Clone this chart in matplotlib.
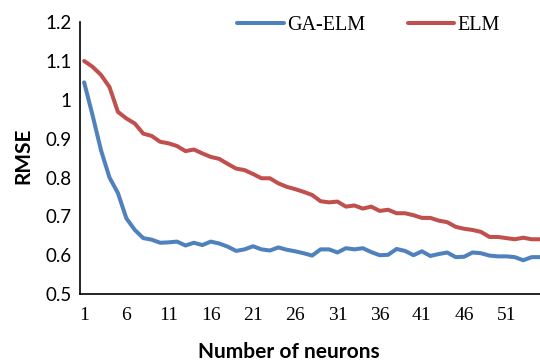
import numpy as np
import matplotlib
matplotlib.use("Agg")
import matplotlib.pyplot as plt

neurons = np.arange(1, 56)
ga_elm = [1.045, 0.96, 0.87, 0.80, 0.76, 0.695, 0.665, 0.644, 0.640, 0.632,
          0.633, 0.635, 0.625, 0.632, 0.626, 0.635, 0.630, 0.622, 0.611, 0.615,
          0.623, 0.615, 0.612, 0.620, 0.614, 0.610, 0.605, 0.599, 0.615, 0.615,
          0.607, 0.618, 0.615, 0.618, 0.608, 0.600, 0.601, 0.616, 0.611, 0.600,
          0.610, 0.598, 0.603, 0.607, 0.595, 0.596, 0.607, 0.605, 0.599, 0.597,
          0.597, 0.595, 0.587, 0.595, 0.595]
elm = [1.100, 1.085, 1.064, 1.033, 0.969, 0.952, 0.939, 0.913, 0.907, 0.892,
       0.888, 0.881, 0.868, 0.872, 0.862, 0.853, 0.848, 0.835, 0.823, 0.819,
       0.809, 0.798, 0.798, 0.785, 0.776, 0.770, 0.763, 0.755, 0.739, 0.736,
       0.738, 0.725, 0.728, 0.720, 0.725, 0.714, 0.717, 0.708, 0.708, 0.703,
       0.696, 0.696, 0.689, 0.685, 0.673, 0.668, 0.665, 0.660, 0.647, 0.647,
       0.644, 0.641, 0.645, 0.641, 0.641]
xticks = [1, 6, 11, 16, 21, 26, 31, 36, 41, 46, 51]
yticks = [0.5, 0.6, 0.7, 0.8, 0.9, 1.0, 1.1, 1.2]
ylabels = ["0.5", "0.6", "0.7", "0.8", "0.9", "1", "1.1", "1.2"]

fig = plt.figure(figsize=(5.4, 3.63), dpi=100)
ax = fig.add_axes([0.148, 0.19, 0.86, 0.749])

ax.plot(neurons, ga_elm, color="#4F81BD", lw=2.9, label="GA-ELM", solid_capstyle="round")
ax.plot(neurons, elm, color="#C0504D", lw=2.9, label="ELM", solid_capstyle="round")

ax.set_xlim(0.5, 55.5)
ax.set_ylim(0.5, 1.2)
ax.set_xticks(xticks)
ax.set_xticklabels([str(t) for t in xticks], fontfamily="Liberation Serif", fontsize=14)
ax.set_yticks(yticks)
ax.set_yticklabels(ylabels, fontfamily="Lato", fontsize=13.5)
ax.tick_params(length=0, pad=9)
ax.tick_params(axis="y", pad=6)

for s in ["top", "right"]:
    ax.spines[s].set_visible(False)
ax.spines["left"].set_linewidth(1.2)
ax.spines["bottom"].set_linewidth(1.2)

ax.set_xlabel("Number of neurons", fontfamily="Lato", fontweight="bold", fontsize=15)
ax.xaxis.set_label_coords(0.45, -0.178)
ax.set_ylabel("RMSE", fontfamily="Lato", fontweight="bold", fontsize=15)
ax.yaxis.set_label_coords(-0.1, 0.51)

ax.legend(loc="upper left", bbox_to_anchor=(0.3, 1.09), ncol=2, frameon=False,
          prop={"family": "Liberation Serif", "size": 14.5}, handlelength=2.3,
          handletextpad=0.15, columnspacing=2.15)

fig.savefig("out.png", dpi=100)
